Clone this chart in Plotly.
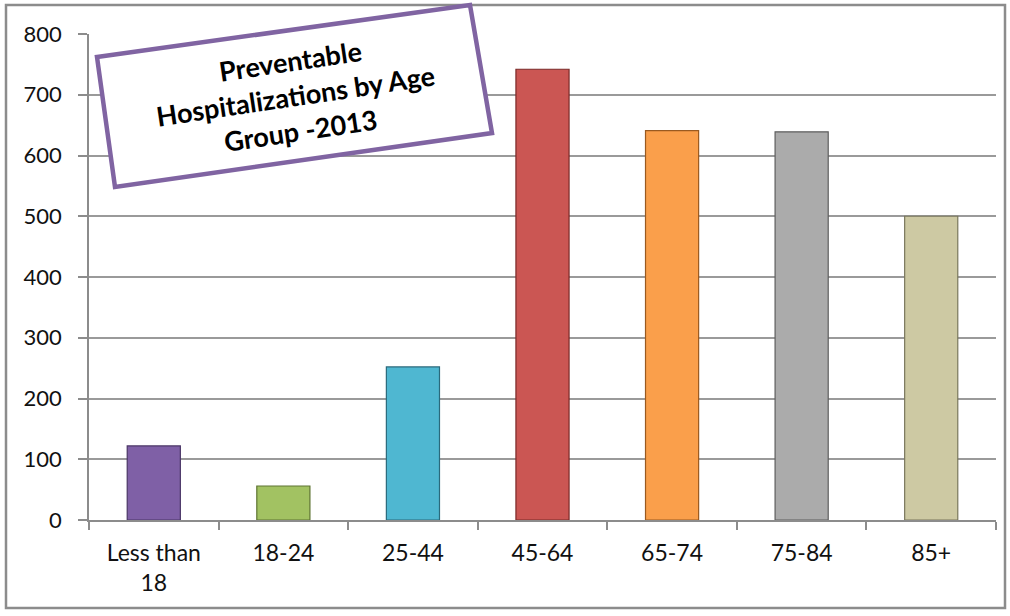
import plotly.graph_objects as go

categories = ["Less than<br>18", "18-24", "25-44", "45-64", "65-74", "75-84", "85+"]
values = [122, 56, 252, 742, 641, 639, 500]
bar_colors = ["#7F60A6", "#A2C262", "#4FB7D1", "#CB5653", "#FA9F4B", "#ABABAB", "#CDC9A3"]
line_colors = ["#4A3566", "#5E7432", "#2A6A7C", "#7A2A28", "#9A5A20", "#5E5E5E", "#7A775C"]
title_text = "Preventable<br>Hospitalizations by Age<br>Group -2013"

W, H = 1010, 616
L, R, T, B = 89, 14, 34, 96
PW, PH = W - L - R, H - T - B

def px(x):
    return (x - L) / PW

def py(y):
    return 1 - (y - T) / PH

fig = go.Figure()
fig.add_trace(go.Bar(
    x=categories, y=values,
    marker=dict(color=bar_colors, line=dict(color=line_colors, width=1.2)),
    width=0.41,
))

shapes = []
# outer chart border
shapes.append(dict(type="rect", xref="paper", yref="paper",
                   x0=px(6), x1=px(1005), y0=py(608), y1=py(5),
                   line=dict(color="#8C8C8C", width=2.5), layer="below"))
# rotated title box
corners = [(97, 57), (470, 5), (492, 133), (115, 187)]
path = "M " + " L ".join(f"{px(x):.5f},{py(y):.5f}" for x, y in corners) + " Z"
shapes.append(dict(type="path", xref="paper", yref="paper", path=path,
                   fillcolor="white", line=dict(color="#8064A2", width=4.5), layer="above"))

fig.update_layout(
    width=W, height=H,
    margin=dict(l=L, r=R, t=T, b=B),
    paper_bgcolor="white", plot_bgcolor="white",
    showlegend=False,
    bargap=0.59,
    font=dict(family="Lato, Open Sans, sans-serif", size=22, color="#111111"),
    xaxis=dict(showgrid=False, showline=True, linecolor="#8C8C8C", linewidth=1.5,
               ticks="outside", ticklen=8, tickcolor="#8C8C8C", tickwidth=1.5,
               tickson="boundaries", tickfont=dict(size=23), ticklabelstandoff=12),
    yaxis=dict(range=[0, 800], dtick=100, showgrid=True, gridcolor="#9A9A9A", gridwidth=1.5,
               showline=True, linecolor="#8C8C8C", linewidth=1.5,
               ticks="outside", ticklen=9, tickcolor="#8C8C8C", tickwidth=1.5,
               tickfont=dict(size=22), ticklabelstandoff=12, zeroline=False),
    shapes=shapes,
    annotations=[dict(xref="paper", yref="paper", x=px(295), y=py(96),
                      xanchor="center", yanchor="middle",
                      text=title_text, showarrow=False, textangle=-8.5,
                      font=dict(family="Lato, Open Sans, sans-serif", size=27, color="#000000", weight="bold"),
                      align="center")],
)

fig.write_html("out.html", config={"displayModeBar": False},
               post_script="document.body.style.margin='0';")
